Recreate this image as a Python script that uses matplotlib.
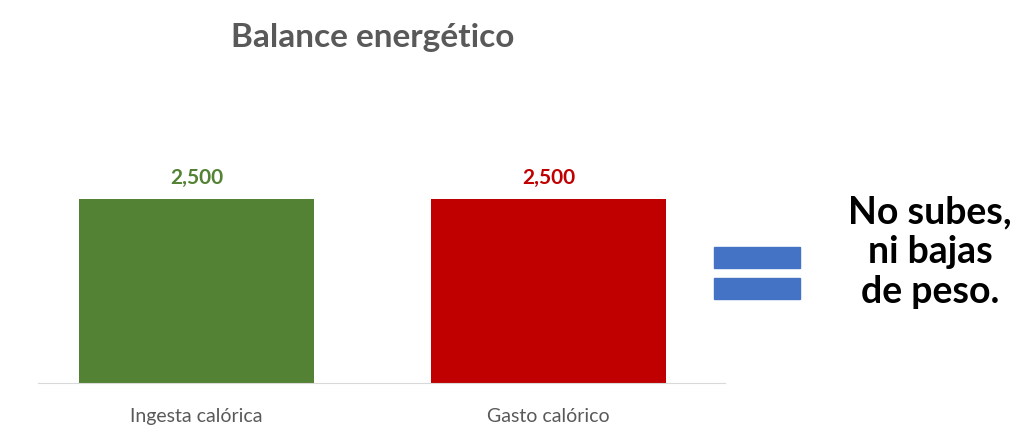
import matplotlib
matplotlib.use("Agg")
import matplotlib.pyplot as plt
from matplotlib.patches import Rectangle

categories = ["Ingesta calórica", "Gasto calórico"]
values = [2500, 2500]
colors = ["#548235", "#C00000"]
labels = ["2,500", "2,500"]

plt.rcParams['font.family'] = ['Lato', 'DejaVu Sans']
fig = plt.figure(figsize=(10.24, 4.42), dpi=100)
ax = fig.add_axes([0.037, 0.1335, 0.671, 0.5])
ax.bar(range(len(values)), values, width=0.667, color=colors)
for i, (v, l, c) in enumerate(zip(values, labels, colors)):
    ax.text(i, v + 150, l, ha='center', va='bottom', color=c, fontsize=15, fontweight='bold')
ax.set_xlim(-0.45, 1.5)
ax.set_ylim(0, 3000)
ax.set_xticks(range(len(categories)))
ax.set_xticklabels(categories, fontsize=14, color='#595959')
ax.tick_params(axis='x', length=0, pad=18)
ax.set_yticks([])
for s in ['top', 'right', 'left']:
    ax.spines[s].set_visible(False)
ax.spines['bottom'].set_color('#D9D9D9')

fig.text(373/1024, 1 - 38/442, "Balance energético", ha='center', va='center',
         fontsize=24, fontweight='bold', color='#595959')
for y0 in (247, 278):
    fig.patches.append(Rectangle((714/1024, 1 - (y0 + 21)/442), 86/1024, 21/442,
                                 transform=fig.transFigure, color='#4472C4'))
fig.text(930/1024, 1 - 252/442, "No subes,\nni bajas\nde peso.", ha='center', va='center',
         fontsize=27, fontweight='bold', color='black', linespacing=1.2)
fig.savefig("out.png", dpi=100, facecolor='white')
